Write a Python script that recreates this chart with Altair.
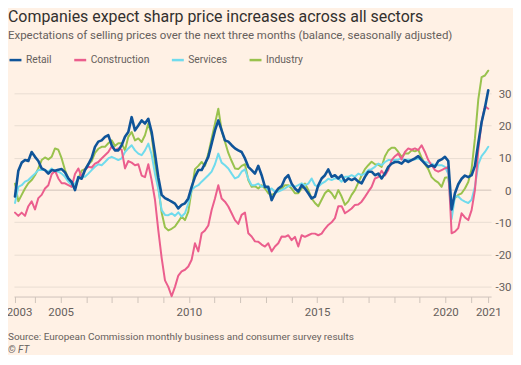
import altair as alt
import numpy as np
import pandas as pd

FONT = "Roboto"
SERIES = ["Retail", "Construction", "Services", "Industry"]
COLORS = ["#0F5499", "#EB5E8D", "#70DBED", "#99C24D"]

# first and last observation (decimal years); values read at a regular spacing in between
START, END = 2003.22, 2021.67

RETAIL = [
    -2, 6, 8.5, 9.3, 9, 11.8, 10.3, 9, 6.7, 6.2,
    5.1, 6.2, 6, 6.3, 6.5, 5.5, 3.6, 2.5, 0, 4,
    3.5, 6.2, 8, 10, 13.4, 15, 15.4, 16.5, 17, 13.9,
    12.3, 12.3, 13.9, 16.5, 18, 22.6, 18.5, 20, 21.6, 20.6,
    22.1, 18, 11.3, 4, -1.5, -2.5, -3, -3.6, -4.2, -5.7,
    -4.6, -4.1, -2.6, 1, 4.1, 6.2, 6.2, 8.2, 10.3, 14.4,
    18.5, 21.6, 18.5, 15.4, 15, 13.9, 12.9, 12.3, 11.8, 9.8,
    7.2, 6.2, 5.1, 7.5, 4.6, 1, 1, -3.1, -1, 0.5,
    1.2, 3.6, 4.6, 2, 0.5, -0.5, 1.5, 0.5, -1, -2.6,
    -2, 1.5, 3.6, 4.6, 6.4, 4.1, 4.6, 3.6, 4.6, 2.6,
    3.6, 3.1, 3.6, 2.6, 2.1, 4.1, 5.7, 5.7, 4.6, 5.1,
    3.6, 5.1, 7.2, 8.2, 8.7, 8.7, 8.2, 9.3, 8.7, 9.3,
    9.8, 10.5, 9.3, 8.2, 7.2, 7.7, 7.2, 9, 9.5, 10.3,
    9, -6, -1, 1.8, 3.5, 4.5, 4, 4.6, 7.5, 14.5,
    21, 25.5, 30.9,
]
CONSTRUCTION = [
    -7, -8, -7, -8, -5, -3.5, -6, -2.5, -1.5, 0.5,
    1.5, 4.9, 6, 3.6, 2.1, 2.1, 1.5, 1, 5, 6.7,
    4, 6.5, 7.2, 7, 8.2, 8.7, 9.8, 10.8, 11.8, 13.5,
    12.3, 12.9, 12.5, 6.7, 9, 8.5, 7.7, 8, 4.5, 4,
    8, 3, -3, -12.5, -21, -28, -30, -32.9, -30, -26.5,
    -25.2, -24.7, -23.7, -21.6, -16.5, -19, -13.4, -12.5, -11, -6.2,
    -2.6, 1.5, -2.6, -3.6, -5.1, -7.2, -9.3, -10.5, -7.7, -7,
    -13.4, -14.4, -15.9, -16, -16.9, -17.5, -16.5, -19, -17.5, -16.5,
    -14.4, -14.5, -14, -15.5, -14.5, -17.5, -14, -14.5, -14, -13.5,
    -13.5, -14, -13.5, -12, -10.8, -10, -8.7, -5, -5, -7.2,
    -6.5, -5.7, -4.6, -4.5, -3.6, -2.1, -0.5, 1, 3.6, 4,
    6, 4.5, 6.2, 9.3, 10.5, 11.3, 9.5, 11.8, 12.9, 12.5,
    12.9, 12.4, 13.9, 11.8, 9.3, 7.7, 6.2, 5.7, 6.2, 6.7,
    7.2, -13.4, -12.9, -11.8, -7.2, -8.5, -9.3, -6.2, 0, 12.3,
    21, 26, 25.2,
]
SERVICES = [
    -4, 1, 1.5, 2.6, 3.1, 4.1, 5.1, 6.2, 6.2, 6.2,
    5.7, 6.7, 5.7, 5.7, 5.1, 4.1, 2.6, 1.5, 2, 3.6,
    4.1, 4.1, 5.1, 6.2, 7.2, 8, 7.7, 8.7, 9.8, 10.3,
    9.8, 9.3, 9.8, 11.8, 12.9, 13.9, 12.3, 11.3, 10.8, 12.3,
    14.4, 11, 5, 0.3, -6.2, -7.7, -7.8, -7.2, -8, -6.9,
    -8.2, -7.2, -4.1, 0, 1, 1.5, 2.6, 3.6, 4.6, 5.7,
    8, 11.3, 8.5, 7.7, 6.7, 5.1, 3.6, 4.1, 5.7, 6.4,
    3.5, 1.5, 1.5, 2, 1, 1.5, 0, 0.5, -0.5, -0.5,
    0, 0.5, 1.2, 1.5, 1, 1.5, 2.1, 1.5, 2, 3.6,
    1.5, 1, 2, 2.6, 3.5, 3.1, 3.6, 3.6, 2.6, 4.1,
    4.1, 4.6, 4.1, 5.1, 4.6, 5.1, 6.2, 6.5, 7.2, 8.2,
    7.7, 8.7, 9.3, 9.3, 9.3, 9.5, 9.8, 9.3, 9.5, 9.3,
    9.5, 9.8, 9.3, 8.7, 8.5, 8.2, 7.7, 7.7, 7.7, 7.2,
    5, -9, -2, -2, -3, -3.6, -4, -3, 1, 8,
    10.5, 11.8, 13.4,
]
INDUSTRY = [
    2, -3.5, -1.5, 0.5, 2.1, 3.1, 4.6, 6.7, 9.3, 10.1,
    9.5, 10.3, 12.9, 12.5, 9.8, 6.2, 3.5, 2.1, 0.5, 3.5,
    6, 6.5, 8, 9, 11.5, 12.8, 13.4, 13.4, 14.5, 15.4,
    13.7, 14.5, 14.5, 12.3, 16.5, 18, 15.4, 16, 14.9, 17,
    20.6, 17, 8.2, 1, -7, -11.5, -12.5, -12, -11.3, -9.8,
    -8.2, -9.3, -6.7, 0, 6.5, 7.5, 8.7, 7.5, 11.3, 16,
    20.6, 25.2, 18.5, 15, 11.5, 9, 6.7, 6.5, 7.5, 8,
    3.1, 1, 1.2, 0.5, 1.5, 0.5, -1, -1.5, -1, 0,
    0.5, 1.5, 1.5, 0.5, -1, -1, 0.5, 2, 0, -2.6,
    -4, -5, -3, -1, 0, -1, -2.6, 0, -2, -4.6,
    -3.5, -1.5, 0, 2.3, 4.5, 6.5, 7.7, 8.8, 8, 7.9,
    7.2, 10.5, 12.3, 13.1, 13.1, 11.8, 10.3, 11.3, 11.3, 12.3,
    12, 12.5, 10, 8, 6.5, 4, 3, 2.3, 1, 3.8,
    4, -5, -2.5, -1.5, -1, 0.5, 2.5, 6.5, 16, 28,
    35, 35.5, 37,
]

Y_TICKS = [-30, -20, -10, 0, 10, 20, 30]
X_TICKS = [START] + list(range(2004, 2022)) + [END]

TITLE = "Companies expect sharp price increases across all sectors"
SUBTITLE = "Expectations of selling prices over the next three months (balance, seasonally adjusted)"
SOURCE = "Source: European Commission monthly business and consumer survey results"
CREDIT = "\u00a9 FT"

n = len(RETAIL)
dates = np.linspace(START, END, n)
values = {"Retail": RETAIL, "Construction": CONSTRUCTION, "Services": SERVICES, "Industry": INDUSTRY}
df = pd.concat(
    [pd.DataFrame({"year": dates, "value": values[s], "series": s}) for s in SERIES],
    ignore_index=True,
)

TXT = "#66605C"
GRID = "#E9DDD2"
AXC = "#CFC4BA"

xscale = alt.Scale(domain=[2003.18, 2021.78], nice=False, zero=False)
yscale = alt.Scale(domain=[-33, 38], nice=False, zero=False)
cscale = alt.Scale(domain=SERIES, range=COLORS)

xaxis = alt.Axis(
    values=X_TICKS,
    labelExpr="datum.value < 2003.5 ? '2003' : datum.value > 2021.5 ? '2021' : (datum.value % 5 === 0 ? '' + datum.value : '')",
    grid=False, domain=True, domainColor=AXC, ticks=True, tickColor=AXC, tickSize=6,
    labelColor=TXT, labelFont=FONT, labelFontSize=11.5, labelPadding=4,
    labelOverlap=False, labelFlush=False, title=None,
    labelOffset={"condition": {"test": "datum.value < 2003.5", "value": 4}, "value": 0},
)
yaxis = alt.Axis(
    orient="right", values=Y_TICKS, labelExpr="'' + datum.value",
    grid=True, gridColor=GRID, gridWidth=1, domain=False, ticks=False, tickSize=0,
    labelAlign="right", labelPadding=20, labelBaseline="middle", labelOffset=1,
    labelColor=TXT, labelFont=FONT, labelFontSize=11.5, title=None,
)
legend = alt.Legend(
    orient="none", legendX=-6, legendY=-15, direction="horizontal", title=None,
    symbolType="stroke", symbolSize=144, symbolStrokeWidth=2.5, labelOffset=3,
    columnPadding=17, labelFont=FONT, labelFontSize=10.3, labelColor=TXT, padding=0,
)

base = alt.Chart(df)


def line_layer(name, width):
    return base.transform_filter(alt.datum.series == name).mark_line(
        strokeWidth=width, strokeJoin="round", strokeCap="round"
    ).encode(
        x=alt.X("year:Q", scale=xscale, axis=xaxis),
        y=alt.Y("value:Q", scale=yscale, axis=yaxis),
        color=alt.Color("series:N", scale=cscale, legend=legend),
    )


zero = alt.Chart(pd.DataFrame({"v": [0]})).mark_rule(color="#DACDC1", strokeWidth=1).encode(
    y=alt.Y("v:Q", scale=yscale, axis=yaxis)
)


def text_layer(txt, x, y, size, color, style="normal"):
    return alt.Chart(pd.DataFrame({"t": [txt]})).mark_text(
        align="left", baseline="alphabetic", font=FONT, fontSize=size, color=color, fontStyle=style
    ).encode(text="t:N", x=alt.value(x), y=alt.value(y))


layers = [
    zero,
    line_layer("Industry", 2),
    line_layer("Services", 2),
    line_layer("Construction", 2),
    line_layer("Retail", 2.6),
    text_layer(TITLE, -6, -46, 16, "#33302E"),
    text_layer(SUBTITLE, -6, -28.5, 11.5, TXT),
    text_layer(SOURCE, -6, 274, 10, TXT),
    text_layer(CREDIT, -6, 286.5, 10, TXT, "italic"),
]

chart = alt.layer(*layers).properties(
    width=479, height=230, background="#FFF1E5",
    padding={"left": 6, "top": 59, "right": 22, "bottom": 58},
    autosize=alt.AutoSizeParams(type="none"),
).configure_view(stroke=None)

chart.save("out.html", embed_options={"renderer": "svg", "actions": False})
